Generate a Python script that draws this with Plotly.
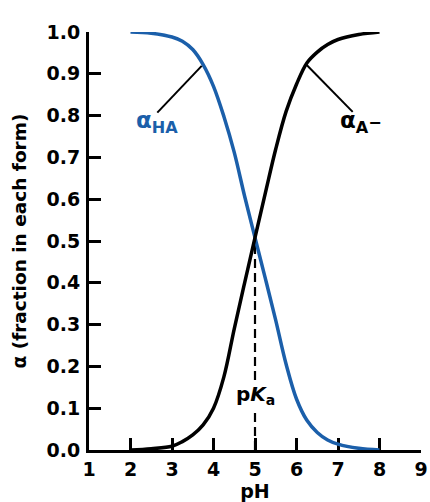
import plotly.graph_objects as go

# Data
ph = [2.0, 2.5, 3.0, 3.25, 3.5, 3.75, 4.0, 4.25, 4.5, 4.75, 5.0,
      5.25, 5.5, 5.75, 6.0, 6.25, 6.5, 6.75, 7.0, 7.5, 8.0]
alpha_ha = [1.000, 0.997, 0.988, 0.978, 0.958, 0.922, 0.870, 0.798, 0.712, 0.607, 0.508,
            0.410, 0.310, 0.205, 0.122, 0.071, 0.042, 0.024, 0.014, 0.004, 0.000]
alpha_a = [0.000, 0.003, 0.009, 0.020, 0.036, 0.060, 0.100, 0.175, 0.290, 0.400, 0.508,
           0.615, 0.720, 0.810, 0.875, 0.926, 0.952, 0.970, 0.982, 0.994, 1.000]
pka = 5.0
pka_alpha = 0.495
x_ticks = [1, 2, 3, 4, 5, 6, 7, 8, 9]
y_ticks = [0.0, 0.1, 0.2, 0.3, 0.4, 0.5, 0.6, 0.7, 0.8, 0.9, 1.0]

BLUE = "#1b5faa"
FAM = "DejaVu Sans"
TICKFONT = dict(family=FAM, size=19, color="black", weight="bold")

fig = go.Figure()
fig.add_trace(go.Scatter(x=ph, y=alpha_ha, mode="lines",
                         line=dict(color=BLUE, width=3.5, shape="spline", smoothing=1.0),
                         cliponaxis=False, hoverinfo="skip"))
fig.add_trace(go.Scatter(x=ph, y=alpha_a, mode="lines",
                         line=dict(color="black", width=3.5, shape="spline", smoothing=1.0),
                         cliponaxis=False, hoverinfo="skip"))

# dashed pKa line
fig.add_shape(type="line", x0=pka, x1=pka, y0=0, y1=pka_alpha, xref="x", yref="y",
              line=dict(color="black", width=2.2, dash="9px,5px"), layer="below")

# leader lines
fig.add_shape(type="line", x0=2.646, y0=0.807, x1=3.716, y1=0.919,
              line=dict(color="black", width=2))
fig.add_shape(type="line", x0=6.246, y0=0.921, x1=7.354, y1=0.809,
              line=dict(color="black", width=2))

fig.add_annotation(x=2.64, y=0.785, text="α<sub>HA</sub>", showarrow=False,
                   font=dict(family=FAM, size=23, color=BLUE, weight="bold"))
fig.add_annotation(x=7.55, y=0.785, text="α<sub>A</sub><span style='font-size:16px'>−</span>",
                   showarrow=False,
                   font=dict(family=FAM, size=23, color="black", weight="bold"))
fig.add_annotation(x=pka, y=0.131, text="p<i>K</i><sub>a</sub>", showarrow=False,
                   bgcolor="white", borderpad=1,
                   font=dict(family=FAM, size=20, color="black", weight="bold"))

axis_common = dict(showline=True, linewidth=3, linecolor="black", ticks="inside",
                   ticklen=12, tickwidth=2.5, tickcolor="black", showgrid=False,
                   zeroline=False, tickfont=TICKFONT, layer="below traces",
                   automargin=False)

fig.update_xaxes(range=[1, 9], tickvals=x_ticks, ticktext=[str(v) for v in x_ticks],
                 title=dict(text="pH", standoff=4,
                            font=dict(family=FAM, size=19, color="black", weight="bold")),
                 **axis_common)
fig.update_yaxes(range=[0, 1], tickvals=y_ticks, ticktext=[f"{v:.1f}" for v in y_ticks],
                 ticklabelstandoff=2,
                 title=dict(text="α (fraction in each form)", standoff=16,
                            font=dict(family=FAM, size=18.5, color="black", weight="bold")),
                 **axis_common)

fig.update_layout(width=430, height=502, showlegend=False,
                  margin=dict(l=89, r=9, t=32, b=52),
                  plot_bgcolor="white", paper_bgcolor="white")

fig.write_html("out.html", config={"displayModeBar": False},
               post_script="document.body.style.margin='0';document.body.style.overflow='hidden';")
